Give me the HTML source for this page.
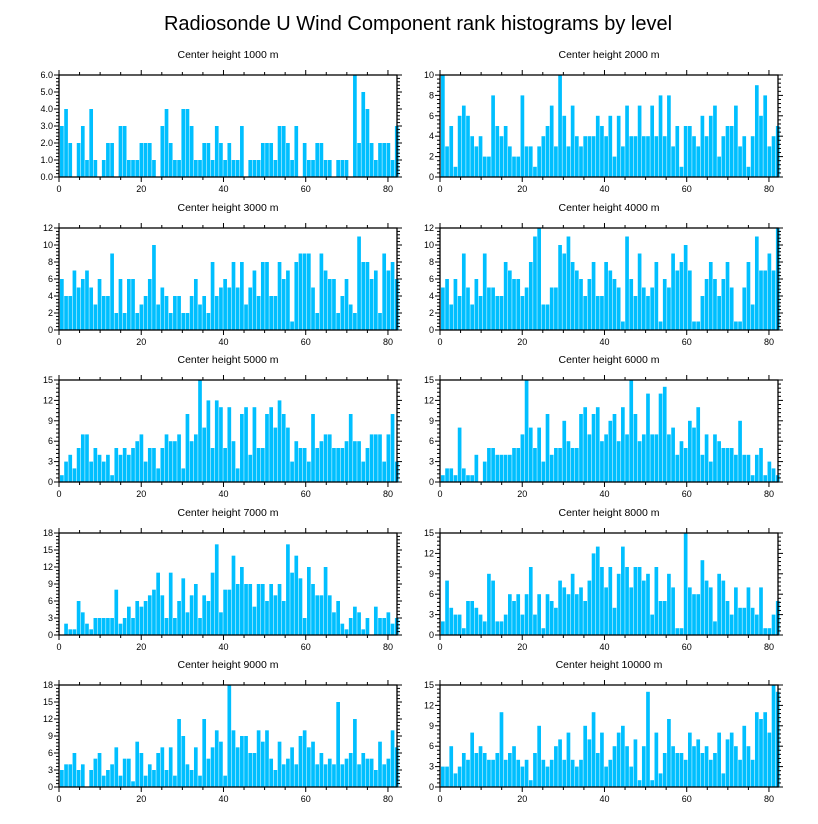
<!DOCTYPE html>
<html><head><meta charset="utf-8">
<style>
html,body{margin:0;padding:0;background:#fff;}
svg{display:block;font-family:"Liberation Sans",sans-serif;}
</style></head>
<body>
<svg id="chart" width="818" height="824" viewBox="0 0 818 824">
<text x="418" y="30" text-anchor="middle" font-size="20" fill="#000">Radiosonde U Wind Component rank histograms by level</text>
</svg>
<script>
const titles = ["Center height 1000 m","Center height 2000 m","Center height 3000 m","Center height 4000 m","Center height 5000 m","Center height 6000 m","Center height 7000 m","Center height 8000 m","Center height 9000 m","Center height 10000 m"];
const yMaxes = [6,10,12,12,15,15,18,15,18,15];
const yStepsMajor = [1,2,2,2,3,3,3,3,3,3];
const yLabelDecimals = [1,0,0,0,0,0,0,0,0,0];
const xTickLabels = [0,20,40,60,80];
const counts1000 = [3,4,2,0,2,3,1,4,1,0,1,2,2,0,3,3,1,1,1,2,2,2,1,0,3,4,2,1,1,4,4,3,1,1,2,2,1,3,2,1,2,1,1,3,0,1,1,1,2,2,2,1,3,3,2,1,3,0,2,1,1,2,2,1,1,0,1,1,1,0,6,2,5,4,2,1,2,2,2,1,3];
const counts2000 = [10,3,5,1,6,7,6,4,3,4,2,2,8,5,4,5,3,2,2,8,3,3,1,3,4,5,7,3,10,6,3,7,4,3,4,4,4,6,5,4,6,2,6,3,7,4,4,7,4,4,7,4,8,4,8,3,5,1,5,5,4,3,6,4,6,7,2,4,5,5,7,3,4,1,4,9,6,8,3,4,5];
const counts3000 = [6,4,4,7,5,6,7,5,3,6,4,4,9,2,6,2,6,6,2,3,4,6,10,3,5,4,2,4,4,2,2,4,6,3,4,2,8,4,5,6,5,8,5,8,3,5,7,4,8,8,4,4,8,6,7,1,8,9,9,9,5,2,9,7,6,6,2,4,6,3,2,11,8,8,6,7,2,9,7,8,6];
const counts4000 = [5,6,3,6,4,9,5,3,6,4,9,5,5,4,4,8,7,6,6,4,5,8,11,12,3,3,5,5,10,9,11,8,7,6,4,6,8,4,4,8,7,6,5,1,11,6,4,9,5,4,5,8,1,6,5,9,7,8,10,7,1,1,4,6,8,6,4,6,8,5,1,1,5,8,3,11,7,7,9,7,12];
const counts5000 = [1,3,4,2,5,7,7,3,5,4,3,4,1,5,4,5,4,5,6,7,3,5,5,2,5,7,6,6,7,2,10,6,7,15,8,12,5,12,11,5,11,6,2,10,11,4,11,5,5,10,11,8,12,10,8,3,6,5,5,3,10,5,6,7,7,5,5,5,6,10,6,6,3,5,7,7,7,3,7,10,3];
const counts6000 = [1,2,2,1,8,2,1,1,4,0,3,5,5,4,4,4,4,5,5,7,15,8,5,8,3,10,4,5,5,9,6,5,5,10,11,7,10,11,6,7,9,10,6,11,7,15,10,6,7,13,7,7,13,14,7,8,4,6,5,9,8,11,4,7,3,7,6,5,5,5,4,9,4,4,1,4,5,1,3,2,1];
const counts7000 = [0,2,1,1,6,4,2,1,3,3,3,3,3,8,2,3,5,3,6,5,6,7,8,11,7,3,11,3,6,10,4,7,9,3,7,6,11,16,4,8,8,14,9,12,9,9,5,9,9,6,9,7,9,6,16,11,14,10,3,12,9,7,7,12,7,4,6,2,1,3,5,4,1,3,0,5,3,3,4,2,3];
const counts8000 = [2,8,4,3,3,1,5,5,4,3,2,9,8,2,2,3,6,5,6,3,6,10,3,6,1,6,5,4,8,7,6,9,6,7,5,8,12,13,10,7,10,4,9,13,10,7,10,10,8,9,3,10,5,5,9,7,1,1,15,7,6,6,11,8,7,2,9,8,5,3,7,4,4,7,4,3,7,1,1,3,5];
const counts9000 = [3,4,4,6,3,4,0,3,5,6,2,3,4,7,2,5,5,1,8,6,2,4,3,6,7,3,7,2,12,9,4,3,7,2,12,5,7,10,8,2,18,10,7,9,9,6,6,10,8,10,5,3,8,4,5,7,4,9,10,7,8,4,6,4,5,4,15,4,5,6,12,4,6,5,5,3,8,4,5,10,7];
const counts10000 = [3,3,6,2,3,5,4,8,5,6,5,4,4,5,11,4,5,6,4,3,4,1,5,9,4,3,4,6,7,4,8,4,3,4,9,7,11,5,8,3,4,6,8,9,6,3,7,1,6,14,1,8,2,5,10,6,5,5,4,8,6,7,5,6,4,5,8,2,7,8,6,4,9,6,4,11,10,11,8,15,14];
const allCounts = [counts1000,counts2000,counts3000,counts4000,counts5000,counts6000,counts7000,counts8000,counts9000,counts10000];

const NS = "http://www.w3.org/2000/svg";
const svg = document.getElementById("chart");
function mk(tag, attrs, parent){
  const e = document.createElementNS(NS, tag);
  for (const k in attrs) e.setAttribute(k, attrs[k]);
  (parent||svg).appendChild(e);
  return e;
}
const colL = [59, 440], plotW = 338;
const rowTop = [75, 228, 380, 533, 685], plotH = 102;
const X_MIN = 0, X_MAX = 82.2;

allCounts.forEach((vals, p) => {
  const col = p % 2, row = Math.floor(p / 2);
  const x0 = colL[col], y0 = rowTop[row];
  const ymax = yMaxes[p];
  const xs = v => x0 + (v - X_MIN) / (X_MAX - X_MIN) * plotW;
  const ys = v => y0 + plotH - v / ymax * plotH;
  const g = mk("g", {});
  
  
  const t = mk("text", {x: x0 + plotW/2, y: y0 - 17, "text-anchor":"middle", "font-size":"10.5", fill:"#000"}, g);
  t.textContent = titles[p];
  
  
  // bars
  const bw = 1.018;
  vals.forEach((v, i) => {
    if (v <= 0) return;
    const xl = xs(0.25 + i*bw), xr = xs(0.25 + (i+1)*bw);
    const r = mk("rect", {x: xl, y: ys(v), width: Math.max(0.5, xr - xl - 0.5), height: ys(0) - ys(v), fill:"#00BFFF"}, g);
    
    
  });
  // frame
  const fr = mk("rect", {x: x0, y: y0, width: plotW, height: plotH, fill:"none", stroke:"#000", "stroke-width":"1.3"}, g);
  
  
  // x ticks
  for (let v = 0; v <= 80; v += 5) {
    const len = (v % 20 === 0) ? 5 : 3;
    const x = xs(v);
    mk("line", {x1:x, x2:x, y1:y0+plotH, y2:y0+plotH+len, stroke:"#000", "stroke-width":"1"}, g);
    mk("line", {x1:x, x2:x, y1:y0, y2:y0-len, stroke:"#000", "stroke-width":"1"}, g);
  }
  xTickLabels.forEach(v => {
    const l = mk("text", {x: xs(v), y: y0+plotH+15, "text-anchor":"middle", "font-size":"9", fill:"#000"}, g);
    l.textContent = v;
    
    
  });
  // y ticks
  const st = yStepsMajor[p], minor = st / 5;
  for (let k = 0; k <= Math.round(ymax/minor); k++) {
    const v = k * minor;
    const isMaj = (k % 5 === 0);
    const len = isMaj ? 5 : 3;
    const y = ys(v);
    mk("line", {x1:x0, x2:x0-len, y1:y, y2:y, stroke:"#000", "stroke-width":"1"}, g);
    mk("line", {x1:x0+plotW, x2:x0+plotW+len, y1:y, y2:y, stroke:"#000", "stroke-width":"1"}, g);
    if (isMaj) {
      const l = mk("text", {x: x0-6, y: y+3, "text-anchor":"end", "font-size":"9", fill:"#000"}, g);
      l.textContent = v.toFixed(yLabelDecimals[p]);
      
      
    }
  }
});
</script>
</body></html>
